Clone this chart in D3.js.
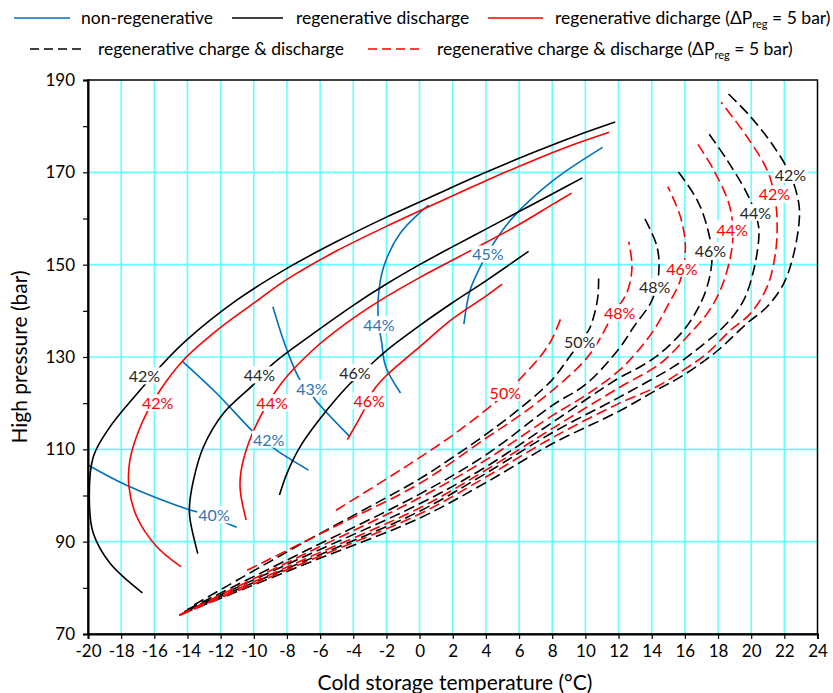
<!DOCTYPE html>
<html>
<head>
<meta charset="utf-8">
<script src="https://cdn.jsdelivr.net/npm/d3@7"></script>
<style>
body { margin: 0; background: #fff; }
svg { font-family: Lato, "Open Sans", sans-serif; }
</style>
</head>
<body>
<svg id="chart" width="833" height="693"></svg>
<script>
// axis ticks
var xTicks = d3.range(-20, 25, 2)
var yTicks = d3.range(70, 191, 10)
var yLabelled = [70, 90, 110, 130, 150, 170, 190]

// non-regenerative (blue), [temperature, pressure]
var nonRegen40 = [[-20,106.6],[-17.67,102.2],[-13.98,97],[-12.4,95.4],[-11.63,94],[-11.03,93.1]]
var nonRegen42 = [[-14.29,129],[-12.23,122.1],[-9.92,113.4],[-9.2,111.4],[-8.51,109.5],[-6.7,105.5]]
var nonRegen43 = [[-8.85,140.9],[-8.0,131.5],[-7.2,125],[-6.6,122.6],[-6.3,120.8],[-4.19,112.7]]
var nonRegen44 = [[0.54,162.9],[-1.17,156.8],[-2.17,149.5],[-2.5,142.4],[-2.45,136.6],[-2.3,133.5],[-2.05,128],[-1.15,122.2]]
var nonRegen45 = [[2.67,137.1],[3.05,144.5],[3.66,149.5],[4.46,154.6],[5.67,160.4],[8.08,168.3],[11.04,175.4]]

// regenerative discharge (black solid)
var discharge42 = [[-16.72,78.9],[-18.67,85.3],[-19.68,91.8],[-19.92,99],[-19.68,108.4],[-18.67,114.9],[-16.72,123.4],[-15.65,127.9],[-14.04,133.7],[-11.03,142.3],[-8,149.2],[-5,155],[-2,160.3],[1,165.2],[4,170],[7,174.5],[9.5,178],[11.8,180.9]]
var discharge44 = [[-13.38,87.4],[-13.84,94.7],[-13.88,97.6],[-13.64,103.3],[-13.04,110.5],[-11.83,117.8],[-10.06,123.9],[-8.82,128.6],[-6.4,135.1],[-4,141.2],[-2,145.8],[0,150],[2,153.9],[4,157.7],[6,161.5],[8,165.3],[9.82,168.8]]
var discharge46 = [[-8.45,100.1],[-8.0,104.8],[-7.2,110.6],[-5.59,118.5],[-4.23,124.1],[-2.96,128.3],[-2,131.4],[0,136.8],[2,141.8],[4,146.5],[6.57,152.9]]

// regenerative discharge, dP_reg = 5 bar (red solid)
var dischargeP42 = [[-14.4,84.6],[-15.85,88.9],[-17.06,95.4],[-17.53,101.9],[-17.47,107.7],[-16.76,115.6],[-15.65,122.8],[-14.25,129.3],[-12,136.4],[-10.02,141.6],[-8,146.8],[-5,153],[-2,158.3],[1,163.3],[4,168.2],[7,172.8],[9.5,176.3],[11.44,178.7]]
var dischargeP44 = [[-10.46,94.7],[-10.83,101.9],[-10.63,107.7],[-9.62,117],[-8.3,124.5],[-6.5,131.3],[-4.5,137.1],[-2.4,142.2],[0,147.2],[2,151],[4,154.8],[6,158.7],[8,163],[9.17,165.5]]
var dischargeP46 = [[-4.36,112.1],[-3.5,117.5],[-2.76,122.9],[-2,126],[0,132.2],[2,138.3],[4,143.2],[4.98,145.8]]

// regenerative charge & discharge (black dashed)
var chargeDis42 = [[-14.3,74.4],[-7,85],[0,95.1],[4,102.8],[8,111.2],[12,118.2],[14.12,122.5],[15.93,126.1],[17.94,131.3],[19.75,137.3],[20.96,140.9],[21.96,145.9],[22.57,152.4],[22.9,159.7],[22.87,163.3],[22.37,169.4],[21.36,175.6],[19.95,182.1],[18.54,187.3]]
var chargeDis44 = [[-14.2,74.8],[-7,85.7],[0,96.6],[4,104.8],[8,113.6],[12,121.2],[13.92,125],[15.32,127.9],[16.93,132.2],[18.54,137.3],[19.55,142.3],[20.15,148.8],[20.45,155.3],[20.45,158.2],[20.25,161.1],[19.75,165.4],[18.54,172.7],[17.28,179.2]]
var chargeDis46 = [[-14.1,75],[-7,86.7],[0,98.2],[4,106.2],[8,115.8],[12,125.4],[13.31,127.9],[14.52,130.8],[15.93,135.8],[16.74,140.2],[17.34,145.2],[17.64,151.7],[17.34,158.2],[16.74,164],[15.57,170.3]]
var chargeDis48 = [[-14,75.3],[-7,87.8],[0,100.3],[4,108.8],[8,119.5],[10.1,124.3],[12.11,132.2],[12.91,136.5],[14.02,142.3],[14.42,148.1],[14.32,153.9],[13.52,160.4]]
var chargeDis50 = [[-13.6,76.3],[-7,89.8],[0,103.6],[2.05,108.4],[4.06,113.4],[6.07,118.9],[7.98,125],[8.89,129.3],[9.66,133.1],[10.2,135.8],[10.5,138.7],[10.75,143],[10.8,147]]

// regenerative charge & discharge, dP_reg = 5 bar (red dashed)
var chargeDisP42 = [[-14.5,74],[-7,85.4],[0,96],[4,104],[8,112.5],[12,119.9],[14.32,123.6],[15.93,127.2],[17.34,130.8],[18.75,135.8],[19.95,139.4],[20.96,145.2],[21.46,152.4],[21.56,159.7],[21.4,165.1],[20.96,170.5],[19.75,177.7],[18.18,185.2]]
var chargeDisP44 = [[-14.5,74.1],[-7,86.1],[0,97.3],[4,105.5],[8,114.5],[12,123.3],[14.52,128.6],[16.13,134.4],[17.34,139.4],[18.14,144.5],[18.75,151.7],[18.9,157.3],[18.65,163.3],[17.74,170.5],[16.69,176.6]]
var chargeDisP46 = [[-14.4,74.3],[-7,87.2],[0,99.5],[4,107.7],[8,117.3],[10.1,121.9],[12.11,127.3],[13.11,131.1],[14.12,135.8],[14.93,140.9],[15.73,146.7],[16.03,153.9],[15.73,160.4],[14.97,166.9]]
var chargeDisP48 = [[-10.4,83.8],[-5,93.5],[0,102.6],[4,112.4],[6.07,117.4],[8.09,123],[9.9,129],[10.7,132.9],[11.7,139.4],[12.51,144],[12.81,149.5],[12.61,155]]
var chargeDisP50 = [[-5.04,96.8],[-2,103.6],[0,108.2],[2.05,113.2],[4.06,118.7],[5.17,122.1],[7.28,130.1],[8,134],[8.59,139.1]]

// efficiency labels: [temperature, pressure, text]
var blueLabels = [[-12.4,95.6,'40%'],[-9.1,112,'42%'],[-6.5,123,'43%'],[-2.45,136.8,'44%'],[4.12,152.1,'45%']]
var blackLabels = [[-16.6,125.7,'42%'],[-9.66,125.9,'44%'],[-3.9,126.4,'46%'],
	[9.66,133.1,'50%'],[14.18,145,'48%'],[17.54,152.9,'46%'],[20.25,161.1,'44%'],[22.37,169.4,'42%']]
var redLabels = [[-15.8,119.9,'42%'],[-8.9,119.9,'44%'],[-3.04,120.3,'46%'],
	[5.17,122.1,'50%'],[12.07,139.4,'48%'],[15.82,149,'46%'],[18.85,157.5,'44%'],[21.4,165.1,'42%']]

var BLUE = '#0070C0', RED = '#FF0000', BLACK = '#000000', GRID = '#66FFFF'

var svg = d3.select('#chart')
var x = d3.scaleLinear().domain([-20,24]).range([88,817.5])
var y = d3.scaleLinear().domain([70,190]).range([634,80])

// grid
svg.append('g')
	.selectAll('line')
	.data(xTicks.filter(function(d){ return d > -20 && d < 24 }))
	.join('line')
	.attr('x1',function(d){ return x(d) })
	.attr('x2',function(d){ return x(d) })
	.attr('y1',y(70))
	.attr('y2',y(190))
	.style('stroke',GRID)
	.style('stroke-width',1.6)
svg.append('g')
	.selectAll('line')
	.data(yLabelled.filter(function(d){ return d > 70 && d < 190 }))
	.join('line')
	.attr('x1',x(-20))
	.attr('x2',x(24))
	.attr('y1',function(d){ return y(d) })
	.attr('y2',function(d){ return y(d) })
	.style('stroke',GRID)
	.style('stroke-width',1.6)

var line = d3.line()
	.x(function(d){ return x(d[0]) })
	.y(function(d){ return y(d[1]) })
	.curve(d3.curveCatmullRom.alpha(0.5))

var series = [
	[nonRegen40,BLUE,false],[nonRegen42,BLUE,false],[nonRegen43,BLUE,false],[nonRegen44,BLUE,false],[nonRegen45,BLUE,false],
	[discharge42,BLACK,false],[discharge44,BLACK,false],[discharge46,BLACK,false],
	[dischargeP42,RED,false],[dischargeP44,RED,false],[dischargeP46,RED,false],
	[chargeDis42,BLACK,true],[chargeDis44,BLACK,true],[chargeDis46,BLACK,true],[chargeDis48,BLACK,true],[chargeDis50,BLACK,true],
	[chargeDisP42,RED,true],[chargeDisP44,RED,true],[chargeDisP46,RED,true],[chargeDisP48,RED,true],[chargeDisP50,RED,true]
]

svg.append('g')
	.selectAll('path')
	.data(series)
	.join('path')
	.attr('d',function(d){ return line(d[0]) })
	.style('fill','none')
	.style('stroke',function(d){ return d[1] })
	.style('stroke-width',1.6)
	.style('stroke-dasharray',function(d){ return d[2] ? '11,5' : null })

// labels with white boxes
function drawLabels(data,colour) {
	var g = svg.append('g')
		.selectAll('g')
		.data(data)
		.join('g')
		.attr('transform',function(d){ return 'translate('+x(d[0])+','+y(d[1])+')' })
	g.append('text')
		.text(function(d){ return d[2] })
		.attr('text-anchor','middle')
		.attr('y',5.5)
		.style('font-size','16px')
		.style('fill',colour)
	g.each(function(){
		var b = d3.select(this).select('text').node().getBBox()
		d3.select(this).insert('rect','text')
			.attr('x',b.x-1)
			.attr('y',b.y+1)
			.attr('width',b.width+2)
			.attr('height',b.height-2)
			.style('fill','#fff')
	})
}
drawLabels(blueLabels,'#2E75B6')
drawLabels(blackLabels,'#262626')
drawLabels(redLabels,RED)

// axes
var xAxis = d3.axisBottom(x)
	.tickValues(xTicks)
	.tickSize(5)
	.tickPadding(6)
	.tickFormat(function(d){ return String(d) })
var yAxis = d3.axisLeft(y)
	.tickValues(yTicks)
	.tickSize(5)
	.tickPadding(8)
	.tickFormat(function(d){ return yLabelled.indexOf(d) > -1 ? String(d) : '' })

svg.append('rect')
	.attr('x',x(-20))
	.attr('y',y(190))
	.attr('width',x(24)-x(-20))
	.attr('height',y(70)-y(190))
	.style('fill','none')
	.style('stroke','#000')
	.style('stroke-width',1.5)

svg.append('g')
	.attr('transform','translate(0,'+y(70)+')')
	.call(xAxis)
svg.append('g')
	.attr('transform','translate('+x(-20)+',0)')
	.call(yAxis)
svg.selectAll('.domain').style('stroke','#000').style('stroke-width',2)
svg.selectAll('.tick line').style('stroke','#000').style('stroke-width',1.2)
svg.selectAll('.tick text')
	.style('font-family','Lato, sans-serif')
	.style('font-size','17px')
	.style('fill','#000')

svg.append('text')
	.attr('x',455)
	.attr('y',690)
	.attr('text-anchor','middle')
	.style('font-size','21px')
	.text('Cold storage temperature  (°C)')
svg.append('text')
	.attr('transform','translate(27,357) rotate(-90)')
	.attr('text-anchor','middle')
	.style('font-size','21px')
	.text('High pressure (bar)')

// legend
var legendRows = [
	[14,70,18,BLUE,false,81,'non-regenerative',null],
	[232,283,18,BLACK,false,296,'regenerative discharge',null],
	[488,543,18,RED,false,555,'regenerative dicharge (ΔP','reg'],
	[30,84,49,BLACK,true,98,'regenerative charge & discharge',null],
	[368,424,49,RED,true,437,'regenerative charge & discharge (ΔP','reg']
]
var lg = svg.append('g')
	.selectAll('g')
	.data(legendRows)
	.join('g')
lg.append('line')
	.attr('x1',function(d){ return d[0] })
	.attr('x2',function(d){ return d[1] })
	.attr('y1',function(d){ return d[2] })
	.attr('y2',function(d){ return d[2] })
	.style('stroke',function(d){ return d[3] })
	.style('stroke-width',1.6)
	.style('stroke-dasharray',function(d){ return d[4] ? '9,5' : null })
lg.append('text')
	.attr('x',function(d){ return d[5] })
	.attr('y',function(d){ return d[2]+6 })
	.style('font-size','17.5px')
	.each(function(d){
		var t = d3.select(this)
		t.append('tspan').text(d[6])
		if (d[7]) {
			t.append('tspan').text(d[7]).attr('dy',4).style('font-size','11px')
			t.append('tspan').text(' = 5 bar)').attr('dy',-4)
		}
	})
</script>
</body>
</html>
